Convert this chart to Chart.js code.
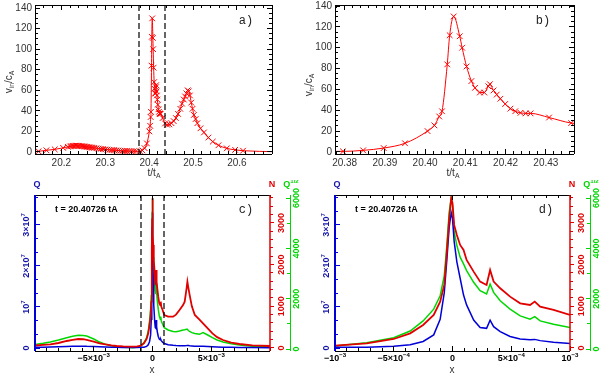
<!DOCTYPE html>
<html>
<head>
<meta charset="utf-8">
<script src="https://cdn.jsdelivr.net/npm/chart.js@4.4.1/dist/chart.umd.min.js"></script>
<style>
body { margin: 0; background: #fff; width: 600px; height: 375px; position: relative; overflow: hidden; }
canvas { position: absolute; }
</style>
</head>
<body>
<canvas id="pa" width="300" height="180" style="left:0;top:0"></canvas>
<canvas id="pb" width="300" height="180" style="left:300px;top:0"></canvas>
<canvas id="pc" width="300" height="195" style="left:0;top:180px"></canvas>
<canvas id="pd" width="300" height="195" style="left:300px;top:180px"></canvas>
<script>
// reconnection rate v_in/c_A against time t/t_A (same series in panels a and b)
var tRate = [20.13, 20.148, 20.166, 20.185, 20.204, 20.215, 20.220, 20.223, 20.226, 20.229,
             20.232, 20.235, 20.238, 20.241, 20.244, 20.247, 20.250, 20.253, 20.256, 20.259,
             20.262, 20.265, 20.268, 20.271, 20.275, 20.280, 20.285, 20.290, 20.295, 20.300,
             20.305, 20.310, 20.315, 20.320, 20.325, 20.330, 20.335, 20.340, 20.345, 20.350,
             20.355, 20.360, 20.365, 20.370, 20.3796, 20.3846, 20.3897, 20.395, 20.4006, 20.4023,
             20.4035, 20.4042, 20.4055, 20.4061, 20.4071, 20.4086, 20.4092, 20.4103, 20.4115, 20.4124,
             20.4136, 20.4147, 20.4157, 20.4161, 20.417, 20.4178, 20.4187, 20.4199, 20.4212, 20.4224,
             20.4237, 20.425, 20.4262, 20.4308, 20.4363, 20.441, 20.446, 20.451, 20.456, 20.461,
             20.466, 20.471, 20.475, 20.479, 20.482, 20.485, 20.488, 20.490, 20.493, 20.496,
             20.499, 20.502, 20.506, 20.510, 20.517, 20.525, 20.535, 20.545, 20.558, 20.577,
             20.596, 20.614, 20.69];
var vRate = [0.3, 0.6, 1.6, 2.5, 4.0, 5.0, 5.4, 5.7, 5.9, 6.0,
             6.1, 6.1, 6.0, 5.9, 5.8, 5.6, 5.5, 5.3, 5.1, 4.9,
             4.7, 4.5, 4.3, 4.1, 3.9, 3.6, 3.3, 3.0, 2.8, 2.5,
             2.3, 2.1, 1.9, 1.7, 1.5, 1.4, 1.2, 1.1, 1.0, 0.9,
             0.8, 0.8, 0.7, 0.6, 0.5, 1.5, 3.7, 8.3, 20, 25.5,
             34, 39, 84, 112, 130, 111, 100, 82, 68, 61.5,
             57, 57, 63, 65, 59, 55, 51, 46, 41.5, 39,
             37.5, 37, 37, 33, 27.7, 26.5, 26.8, 28, 30, 33,
             37, 42, 47, 51, 54, 57, 60, 59, 55, 48,
             42, 36, 32, 28, 23, 19, 14, 10, 6.5, 3.5,
             2.0, 1.2, 0.2];

// profiles across the sheet at t = 20.40726 tA; x in units of 10^-3 (panels c and d)
var xPos = [-10, -9.3, -8.7, -8.0, -7.3, -6.8, -6.3, -5.9, -5.6, -5.0,
            -4.5, -4.0, -3.5, -3.05, -2.5, -2.0, -1.6, -1.3,
            -1.0, -0.73, -0.5, -0.36, -0.25, -0.16, -0.105, -0.07, -0.048, -0.028, -0.011,
            0,
            0.014, 0.037, 0.065, 0.094, 0.12, 0.18, 0.235, 0.29, 0.32, 0.35,
            0.406, 0.49, 0.576, 0.66, 0.70, 0.746, 0.86, 1.0,
            1.33, 1.75, 2.0, 2.3, 2.6, 2.74, 2.9, 2.97, 3.05, 3.16,
            3.35, 3.6, 4.0, 4.3, 4.7, 5.1, 5.5, 6.0, 6.7, 7.4,
            8.5, 10];
// N (red axis)
var nVal = [60, 75, 88, 120, 168, 195, 216, 210, 192, 150,
            112, 85, 62, 48, 38, 34, 32, 40,
            56, 112, 216, 352, 552, 792, 1112, 1512, 2312, 3112, 3592,
            3472,
            2952, 2712, 2472, 2352, 2112, 1832, 1592, 1512, 1872, 1592,
            1432, 1232, 1072, 1032, 1112, 992, 912, 792,
            752, 752, 800, 912, 1030, 1112, 1432, 1592, 1450, 1272,
            1000, 792, 680, 592, 470, 352, 260, 192, 130, 96,
            65, 48];
// Q^(1/2) (green axis)
var sqrtQ = [187, 230, 280, 360, 453, 510, 547, 540, 520, 400,
             280, 190, 130, 93, 70, 60, 55, 80,
             120, 253, 453, 720, 1120, 1587, 2120, 2920, 4120, 5453, 5987,
             5720,
             4653, 4120, 3653, 3387, 3120, 2653, 2320, 2187, 2587, 2253,
             1920, 1587, 1320, 1187, 1293, 1120, 987, 853,
             760, 700, 693, 720, 760, 770, 785, 787, 740, 700,
             653, 620, 587, 653, 560, 453, 360, 280, 210, 160,
             110, 80];
// Q in units of 10^7 (blue axis)
var qVal = [0.016, 0.02, 0.024, 0.03, 0.035, 0.04, 0.045, 0.045, 0.04, 0.035,
            0.03, 0.024, 0.02, 0.016, 0.012, 0.01, 0.01, 0.012,
            0.016, 0.02, 0.04, 0.08, 0.16, 0.32, 0.7, 1.35, 2.15, 2.95, 3.3,
            3.16,
            2.6, 2.1, 1.7, 1.29, 1.05, 0.68, 0.5, 0.48, 0.68, 0.52,
            0.4, 0.28, 0.22, 0.2, 0.21, 0.18, 0.14, 0.11,
            0.08, 0.065, 0.06, 0.058, 0.058, 0.058, 0.06, 0.062, 0.06, 0.055,
            0.05, 0.045, 0.04, 0.04, 0.035, 0.03, 0.025, 0.02, 0.016, 0.014,
            0.01, 0.008];

// tick values and labels
var aTicksX = [20.2, 20.3, 20.4, 20.5, 20.6];
var aLabelsX = ['20.2', '20.3', '20.4', '20.5', '20.6'];
var bTicksX = [20.38, 20.39, 20.40, 20.41, 20.42, 20.43];
var bLabelsX = ['20.38', '20.39', '20.40', '20.41', '20.42', '20.43'];
var rateTicks = [0, 20, 40, 60, 80, 100, 120, 140];
var rateLabels = ['0', '20', '40', '60', '80', '100', '120', '140'];
var cTicksX = [-5, 0, 5];
var cLabelsX = ['\u22125\u00d710^{\u22123}', '0', '5\u00d710^{\u22123}'];
var dTicksX = [-1, -0.5, 0, 0.5, 1];
var dLabelsX = ['\u221210^{\u22123}', '\u22125\u00d710^{\u22124}', '0', '5\u00d710^{\u22124}', '10^{\u22123}'];
var qTicks = [0, 1, 2, 3];
var qLabels = ['0', '10^{7}', '2\u00d710^{7}', '3\u00d710^{7}'];
var nTicks = [0, 1000, 2000, 3000];
var nLabels = ['0', '1000', '2000', '3000'];
var gTicks = [0, 2000, 4000, 6000];
var gLabels = ['0', '2000', '4000', '6000'];
var zoomA = [20.3775, 20.4373];   // range shown in b, dashed in a
var zoomC = [-1, 1];              // range shown in d, dashed in c

var RED = 'rgb(255,0,0)';
var NRED = 'rgb(225,0,0)';
var QBLUE = 'rgb(0,0,215)';
var QGREEN = 'rgb(0,215,0)';
var FAM = '"Liberation Sans", "DejaVu Sans", sans-serif';

function pts(xs, ys) {
    var out = [];
    for (var i = 0; i < xs.length; i++) out.push({x: xs[i], y: ys[i]});
    return out;
}

// text with ^{...} and _{...} pieces
function richParts(s) {
    var parts = [], re = /([\^_])\{([^}]*)\}/g, last = 0, m;
    while ((m = re.exec(s)) !== null) {
        if (m.index > last) parts.push({t: s.slice(last, m.index), k: 0});
        parts.push({t: m[2], k: m[1] == '^' ? 1 : -1});
        last = re.lastIndex;
    }
    if (last < s.length) parts.push({t: s.slice(last), k: 0});
    return parts;
}

function drawRich(ctx, s, x, y, o) {
    var parts = richParts(s);
    var fam = o.family || FAM;
    var fnt = function(p) { return (o.weight || 'normal') + ' ' + (p.k ? o.size * 0.68 : o.size) + 'px ' + fam; };
    var w = 0;
    parts.forEach(function(p) { ctx.font = fnt(p); p.w = ctx.measureText(p.t).width; w += p.w; });
    var cx = x - w / 2;
    if (o.align == 'left') cx = x;
    else if (o.align == 'right') cx = x - w;
    ctx.fillStyle = o.color || '#000';
    ctx.textBaseline = 'middle';
    ctx.textAlign = 'left';
    parts.forEach(function(p) {
        ctx.font = fnt(p);
        var dy = p.k == 1 ? -o.size * 0.4 : (p.k == -1 ? o.size * 0.3 : 0);
        ctx.fillText(p.t, cx, y + dy);
        cx += p.w;
    });
}

function crisp(p, lw) {
    return (Math.round(lw) % 2 == 1) ? Math.floor(p) + 0.5 : Math.round(p);
}

function drawAxis(chart, a) {
    var ctx = chart.ctx, ca = chart.chartArea, sc = chart.scales[a.scale];
    var vert = (a.side == 'left' || a.side == 'right');
    var lw = a.lw || 1;
    var p0 = a.side == 'left' ? ca.left - (a.off || 0) : a.side == 'right' ? ca.right + (a.off || 0) :
             a.side == 'top' ? ca.top : ca.bottom;
    ctx.save();
    ctx.strokeStyle = a.color;
    ctx.lineWidth = lw;
    ctx.beginPath();
    var pl = crisp(p0, lw);
    if (vert) { ctx.moveTo(pl, ca.top); ctx.lineTo(pl, ca.bottom); }
    else { ctx.moveTo(ca.left, pl); ctx.lineTo(ca.right, pl); }
    ctx.stroke();
    ctx.lineWidth = 1;
    ctx.beginPath();
    var tick = function(v, len) {
        var q = sc.getPixelForValue(v);
        if (vert) {
            if (q < ca.top - 0.5 || q > ca.bottom + 0.5) return;
            q = crisp(q, 1);
            ctx.moveTo(p0, q); ctx.lineTo(p0 + a.dir * len, q);
        } else {
            if (q < ca.left - 0.5 || q > ca.right + 0.5) return;
            q = crisp(q, 1);
            ctx.moveTo(q, p0); ctx.lineTo(q, p0 + a.dir * len);
        }
    };
    if (a.minor) {
        for (var k = Math.ceil(sc.min / a.minor - 1e-6); k * a.minor <= sc.max + 1e-9; k++) tick(k * a.minor, a.minLen || 3);
    }
    a.major.forEach(function(v) { tick(v, a.majLen || 5); });
    ctx.stroke();
    if (a.labels) {
        a.major.forEach(function(v, i) {
            var q = sc.getPixelForValue(v);
            ctx.save();
            if (vert) ctx.translate(p0 + a.lab, q); else ctx.translate(q, p0 + a.lab);
            if (a.rot) ctx.rotate(-Math.PI / 2);
            drawRich(ctx, a.labels[i], 0, 0, {size: a.size || 10, weight: a.weight, color: a.tcolor || a.color, align: a.align});
            ctx.restore();
        });
    }
    ctx.restore();
}

function framePlugin(spec) {
    return {
        id: 'frame',
        afterDatasetsDraw: function(chart) {
            var ctx = chart.ctx, ca = chart.chartArea;
            if (spec.dash) {
                var sx = chart.scales[spec.dash.scale];
                ctx.save();
                ctx.strokeStyle = '#000';
                ctx.lineWidth = 1.2;
                ctx.setLineDash([6, 3]);
                spec.dash.vals.forEach(function(v) {
                    var q = Math.round(sx.getPixelForValue(v));
                    ctx.beginPath();
                    ctx.moveTo(q, ca.top);
                    ctx.lineTo(q, ca.bottom);
                    ctx.stroke();
                });
                ctx.restore();
            }
            spec.axes.forEach(function(a) { drawAxis(chart, a); });
            spec.texts.forEach(function(t) {
                ctx.save();
                ctx.translate(t.x, t.y);
                if (t.rot) ctx.rotate(-Math.PI / 2);
                drawRich(ctx, t.s, 0, 0, t);
                ctx.restore();
            });
        }
    };
}

function makeChart(id, pad, datasets, scales, spec) {
    return new Chart(document.getElementById(id), {
        type: 'line',
        data: {datasets: datasets},
        options: {
            responsive: false,
            animation: false,
            devicePixelRatio: 1,
            events: [],
            layout: {padding: pad},
            scales: scales,
            plugins: {legend: {display: false}, tooltip: {enabled: false}}
        },
        plugins: [framePlugin(spec)]
    });
}

function rateSet() {
    return [{
        data: pts(tRate, vRate),
        borderColor: RED,
        borderWidth: 1,
        cubicInterpolationMode: 'monotone',
        pointStyle: 'crossRot',
        pointRadius: 4,
        pointBorderColor: RED,
        pointBorderWidth: 1
    }];
}

function rateAxes(ticksX, labelsX, minorX) {
    return [
        {scale: 'x', side: 'bottom', dir: -1, color: '#000', major: ticksX, labels: labelsX, minor: minorX, lab: 9, size: 10, tcolor: '#333'},
        {scale: 'x', side: 'top', dir: 1, color: '#000', major: ticksX, minor: minorX},
        {scale: 'y', side: 'left', dir: 1, color: '#000', major: rateTicks, labels: rateLabels, minor: 5, lab: -3, size: 10, tcolor: '#333', align: 'right'},
        {scale: 'y', side: 'right', dir: -1, color: '#000', major: rateTicks, minor: 5}
    ];
}

// panel a
makeChart('pa', {left: 35, right: 28, top: 2, bottom: 26}, rateSet(), {
    x: {type: 'linear', display: false, min: 20.14, max: 20.68},
    y: {type: 'linear', display: false, min: -2, max: 143}
}, {
    axes: rateAxes(aTicksX, aLabelsX, 0.02),
    dash: {scale: 'x', vals: zoomA},
    texts: [
        {s: 'a)', x: 246, y: 21, size: 12, family: '"Liberation Mono", monospace', color: '#222'},
        {s: 'v_{in}/c_{A}', x: 9, y: 82, size: 10, rot: true, color: '#333'},
        {s: 't/t_{A}', x: 154, y: 173, size: 10, color: '#333'}
    ]
});

// panel b
makeChart('pb', {left: 35, right: 26, top: 2, bottom: 26}, rateSet(), {
    x: {type: 'linear', display: false, min: 20.3776, max: 20.437},
    y: {type: 'linear', display: false, min: -2, max: 141}
}, {
    axes: rateAxes(bTicksX, bLabelsX, 0.002),
    texts: [
        {s: 'b)', x: 243, y: 21, size: 12, family: '"Liberation Mono", monospace', color: '#222'},
        {s: 'v_{in}/c_{A}', x: 9, y: 85, size: 10, rot: true, color: '#333'},
        {s: 't/t_{A}', x: 153, y: 173, size: 10, color: '#333'}
    ]
});

function profileSets() {
    return [
        {data: pts(xPos, nVal), yAxisID: 'yn', borderColor: NRED, borderWidth: 1.8, pointRadius: 0, tension: 0, order: 0},
        {data: pts(xPos, qVal), yAxisID: 'yq', borderColor: QBLUE, borderWidth: 1.5, pointRadius: 0, tension: 0, order: 1},
        {data: pts(xPos, sqrtQ), yAxisID: 'yg', borderColor: QGREEN, borderWidth: 1.5, pointRadius: 0, tension: 0, order: 2}
    ];
}

function profileScales(xmin, xmax) {
    return {
        x: {type: 'linear', display: false, min: xmin, max: xmax},
        yq: {axis: 'y', type: 'linear', display: false, min: -0.073, max: 3.73},
        yn: {axis: 'y', type: 'linear', display: false, min: -72, max: 3670},
        yg: {axis: 'y', type: 'linear', display: false, min: -75, max: 6120}
    };
}

function profileSpec(ticksX, labelsX, minorX, panel, dash) {
    return {
        axes: [
            {scale: 'x', side: 'bottom', dir: -1, color: '#000', major: ticksX, labels: labelsX, minor: minorX, lab: 8, size: 9, weight: 'bold'},
            {scale: 'x', side: 'top', dir: 1, color: '#000', major: ticksX, minor: minorX},
            {scale: 'yq', side: 'left', dir: 1, color: QBLUE, lw: 2, major: qTicks, labels: qLabels, minor: 1 / 3, lab: -8, rot: true, size: 9, weight: 'bold', tcolor: 'rgb(20,20,170)'},
            {scale: 'yn', side: 'right', dir: 1, color: NRED, lw: 1.5, major: nTicks, labels: nLabels, minor: 200, lab: 12, rot: true, size: 9, weight: 'bold', majLen: 4, minLen: 3},
            {scale: 'yg', side: 'right', off: 20, dir: -1, color: QGREEN, major: gTicks, labels: gLabels, minor: 1000, lab: 7, rot: true, size: 9, weight: 'bold', majLen: 4, minLen: 3}
        ],
        dash: dash ? {scale: 'x', vals: dash} : null,
        texts: [
            {s: 'Q', x: 37, y: 5, size: 9, weight: 'bold', color: 'rgb(20,20,170)'},
            {s: 'N', x: 272, y: 5, size: 9, weight: 'bold', color: NRED},
            {s: 'Q^{1/2}', x: 291, y: 5, size: 9, weight: 'bold', color: QGREEN},
            {s: 't = 20.40726 tA', x: 55, y: 30, size: 9, weight: 'bold', align: 'left'},
            {s: panel, x: 246, y: 30, size: 12, family: '"Liberation Mono", monospace', color: '#222'},
            {s: 'x', x: 152, y: 190, size: 10, color: '#333'}
        ]
    };
}

// panel c
makeChart('pc', {left: 35, right: 30, top: 15, bottom: 24}, profileSets(), profileScales(-10, 10),
    profileSpec(cTicksX, cLabelsX, 1, 'c)', zoomC));

// panel d
makeChart('pd', {left: 35, right: 30, top: 15, bottom: 24}, profileSets(), profileScales(-1, 1),
    profileSpec(dTicksX, dLabelsX, 0.1, 'd)', null));
</script>
</body>
</html>
